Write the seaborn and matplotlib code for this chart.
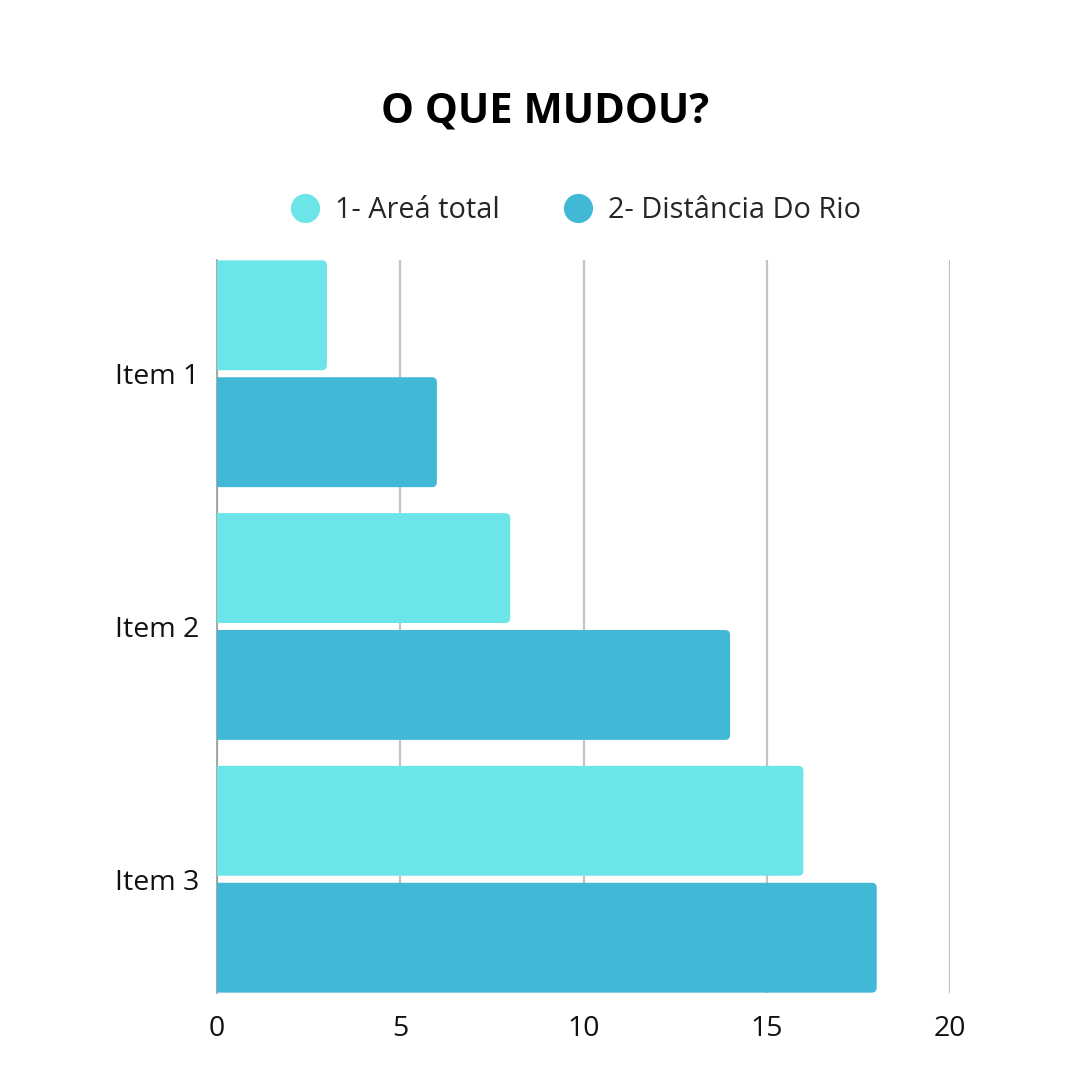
import matplotlib
matplotlib.use("Agg")
import matplotlib.pyplot as plt
from matplotlib.patches import FancyBboxPatch
from matplotlib.lines import Line2D
import seaborn as sns
import pandas as pd

# data
items = ["Item 1", "Item 2", "Item 3"]
series_names = ["1- Areá total", "2- Distância Do Rio"]
area_total = [3, 8, 16]
distancia_rio = [6, 14, 18]
x_ticks = [0, 5, 10, 15, 20]

colors = ["#6CE5E8", "#41B8D5"]

df = pd.DataFrame({
    "item": items * 2,
    "serie": [series_names[0]] * 3 + [series_names[1]] * 3,
    "valor": area_total + distancia_rio,
})

sns.set_theme(style="white")
plt.rcParams["font.family"] = ["Open Sans", "DejaVu Sans"]

fig = plt.figure(figsize=(10.8, 10.8), dpi=100)
ax = fig.add_axes([217 / 1080, 1 - 993 / 1080, 733 / 1080, 733 / 1080])

sns.barplot(data=df, x="valor", y="item", hue="serie", orient="h",
            palette=colors, width=0.925, gap=0.06, ax=ax, legend=False,
            saturation=1)

ax.set_xlim(0, 20)
ax.set_ylim(2.45, -0.45)

# swap the plain bars for bars with rounded right ends
x_per_px = 20 / 733
y_per_px = 2.9 / 733
radius = 5 * x_per_px
for p in list(ax.patches):
    x0, y0 = p.get_x(), p.get_y()
    w, h = p.get_width(), p.get_height()
    fc = p.get_facecolor()
    p.remove()
    box = FancyBboxPatch((x0 - 0.5, y0), w + 0.5, h,
                         boxstyle=f"round,pad=0,rounding_size={radius}",
                         mutation_aspect=y_per_px / x_per_px,
                         facecolor=fc, edgecolor="none", zorder=3)
    ax.add_patch(box)

ax.set_xticks(x_ticks)
ax.set_xticklabels([str(t) for t in x_ticks])
ax.xaxis.grid(True, color="#c3c3c3", linewidth=1.6)
ax.yaxis.grid(False)
ax.set_axisbelow(True)
for side in ["top", "right", "bottom"]:
    ax.spines[side].set_visible(False)
ax.spines["left"].set_color("#999999")
ax.spines["left"].set_linewidth(1.2)
ax.spines["left"].set_zorder(1)
ax.tick_params(axis="x", length=0, pad=16, labelsize=20.5, labelcolor="#111111")
ax.tick_params(axis="y", length=0, pad=13, labelsize=20.5, labelcolor="#111111")
ax.set_xlabel("")
ax.set_ylabel("")

fig.text(0.505, 0.896, "O QUE MUDOU?", ha="center", va="center",
         fontsize=30, fontweight="bold", color="#000000")

handles = [Line2D([], [], marker="o", linestyle="none", markersize=21,
                  markerfacecolor=c, markeredgecolor="none") for c in colors]
fig.legend(handles, series_names, loc="center", bbox_to_anchor=(0.533, 0.805),
           ncol=2, frameon=False, fontsize=20.8, handletextpad=0.55,
           columnspacing=2.2, handlelength=1.0)

fig.savefig("out.png", dpi=100, facecolor="white")
